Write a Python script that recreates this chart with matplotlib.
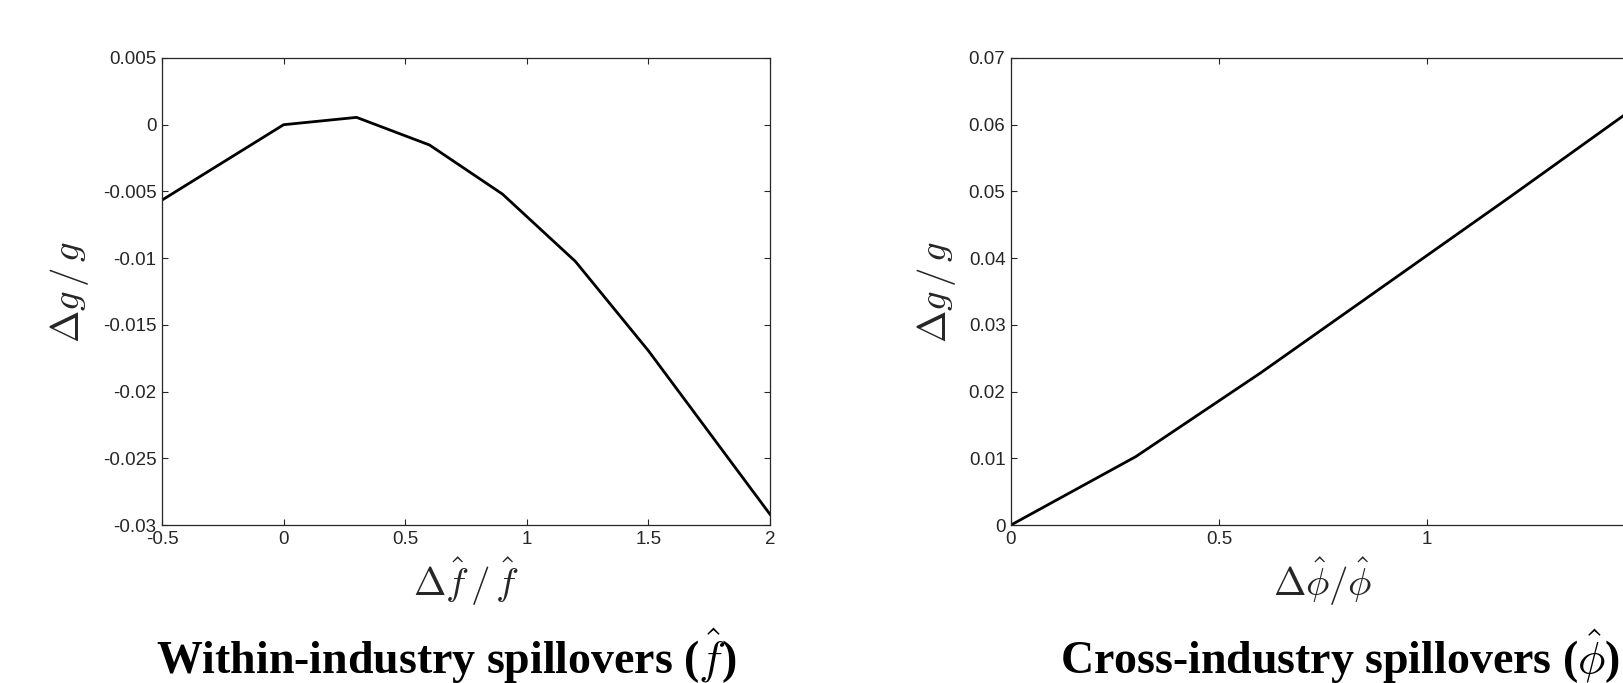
import matplotlib
matplotlib.use('Agg')
import matplotlib.pyplot as plt

# data
f_x = [-0.5, 0.0, 0.3, 0.6, 0.9, 1.2, 1.5, 2.0]
f_g = [-0.00565, 0.0, 0.00055, -0.00152, -0.0052, -0.01025, -0.01694, -0.0292]

phi_x = [0.0, 0.3, 0.6, 0.9, 1.2, 1.5]
phi_g = [0.0, 0.01025, 0.0228, 0.0360, 0.0492, 0.0626]

f_yticks = [-0.03, -0.025, -0.02, -0.015, -0.01, -0.005, 0, 0.005]
f_ylabels = ['-0.03', '-0.025', '-0.02', '-0.015', '-0.01', '-0.005', '0', '0.005']
f_xticks = [-0.5, 0, 0.5, 1, 1.5, 2]
f_xlabels = ['-0.5', '0', '0.5', '1', '1.5', '2']

phi_yticks = [0, 0.01, 0.02, 0.03, 0.04, 0.05, 0.06, 0.07]
phi_ylabels = ['0', '0.01', '0.02', '0.03', '0.04', '0.05', '0.06', '0.07']
phi_xticks = [0, 0.5, 1, 1.5]
phi_xlabels = ['0', '0.5', '1', '1.5']

plt.rcParams['mathtext.fontset'] = 'cm'
plt.rcParams['font.family'] = 'Liberation Sans'

W, H = 1624, 683
fig = plt.figure(figsize=(W/100, H/100), dpi=100)

ax1 = fig.add_axes([162/W, 1-525/H, 608/W, 467/H])
ax2 = fig.add_axes([1011/W, 1-525/H, 624/W, 467/H])

def style(ax, xt, xl, yt, yl):
    ax.set_xticks(xt)
    ax.set_xticklabels(xl)
    ax.set_yticks(yt)
    ax.set_yticklabels(yl)
    ax.tick_params(direction='in', length=4, width=0.8, color='#262626',
                   labelsize=13.5, labelcolor='#262626', pad=4,
                   top=True, right=True)
    for s in ax.spines.values():
        s.set_linewidth(0.9)
        s.set_color('#262626')

ax1.plot(f_x, f_g, color='black', lw=2.0)
ax1.set_xlim(-0.5, 2)
ax1.set_ylim(-0.03, 0.005)
style(ax1, f_xticks, f_xlabels, f_yticks, f_ylabels)

ax2.plot(phi_x, phi_g, color='black', lw=2.0)
ax2.set_xlim(0, 1.5)
ax2.set_ylim(0, 0.07)
style(ax2, phi_xticks, phi_xlabels, phi_yticks, phi_ylabels)

# axis labels
ax1.set_ylabel(r'$\Delta g\,/\,g$', fontsize=28, color='#262626')
ax1.yaxis.set_label_coords(-0.152, 0.5)
ax1.yaxis.label.set_va('center')
ax1.set_xlabel(r'$\Delta \hat{f}\,/\,\hat{f}$', fontsize=28, color='#262626')
ax1.xaxis.set_label_coords(0.5, -0.122)
ax1.xaxis.label.set_va('center')

ax2.set_ylabel(r'$\Delta g\,/\,g$', fontsize=28, color='#262626')
ax2.yaxis.set_label_coords(-0.119, 0.5)
ax2.yaxis.label.set_va('center')
ax2.set_xlabel(r'$\Delta \hat{\phi}/\hat{\phi}$', fontsize=28, color='#262626')
ax2.xaxis.set_label_coords(0.5, -0.122)
ax2.xaxis.label.set_va('center')

# panel captions
fig.text(446/W, 1-674/H, r'Within-industry spillovers ($\hat{f}$)',
         family='Liberation Serif', weight='bold', fontsize=33,
         ha='center', va='baseline')
fig.text(1340/W, 1-674/H, r'Cross-industry spillovers ($\hat{\phi}$)',
         family='Liberation Serif', weight='bold', fontsize=33,
         ha='center', va='baseline')

fig.savefig('out.png', dpi=100)
